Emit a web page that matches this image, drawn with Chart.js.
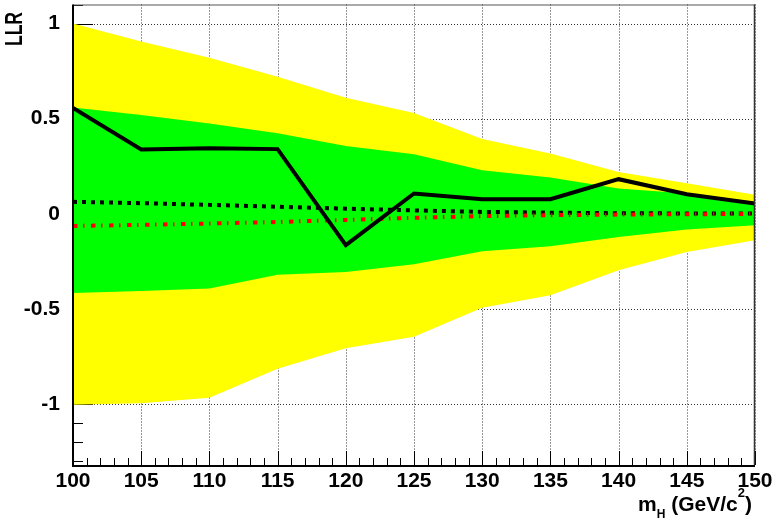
<!DOCTYPE html>
<html><head><meta charset="utf-8">
<script src="https://cdn.jsdelivr.net/npm/chart.js@4/dist/chart.umd.min.js"></script>
<style>html,body{margin:0;padding:0;background:#fff;} #wrap{width:773px;height:523px;position:relative;}</style>
</head><body><div id="wrap"><canvas id="c" width="773" height="523"></canvas></div>
<script>
const masses = [100,105,110,115,120,125,130,135,140,145,150];
const llrObserved = [0.556,0.338,0.344,0.340,-0.165,0.107,0.077,0.077,0.182,0.103,0.054];
const llrExpBkg = [0.063,0.056,0.047,0.037,0.027,0.018,0.010,0.006,0.003,0.002,0.001];
const llrExpSigBkg = [-0.064,-0.058,-0.051,-0.043,-0.032,-0.021,-0.012,-0.007,-0.004,-0.002,-0.001];
const band1Up = [0.559,0.519,0.475,0.423,0.357,0.313,0.229,0.191,0.133,0.107,0.063];
const band1Lo = [-0.416,-0.406,-0.393,-0.320,-0.306,-0.265,-0.197,-0.170,-0.122,-0.083,-0.060];
const band2Up = [1.0,0.905,0.82,0.72,0.61,0.53,0.393,0.317,0.22,0.16,0.10];
const band2Lo = [-1.004,-0.995,-0.967,-0.814,-0.706,-0.646,-0.493,-0.428,-0.297,-0.200,-0.139];
const xTicks = [100,105,110,115,120,125,130,135,140,145,150];
const yTicks = [-1,-0.5,0,0.5,1];
const xRange = [100,150];
const yRange = [-1.32,1.1];
const yTitle = "LLR";

const pts = arr => masses.map((m,i)=>({x:m,y:arr[i]}));
const FONT = "'Liberation Sans', Arial, Helvetica, sans-serif";

const band = (arr, color, fill, order) => ({
  data: pts(arr), borderColor:'rgba(0,0,0,0)', borderWidth:0, pointRadius:0,
  backgroundColor: color, fill: fill, order: order, tension:0
});

const decor = {
  id:'decor',
  beforeDatasetsDraw(chart){
    const {ctx, chartArea:a, scales:{x,y}} = chart;
    ctx.save();
    ctx.strokeStyle='rgba(0,0,0,0.8)'; ctx.lineWidth=1; ctx.setLineDash([1,2]);
    xTicks.forEach(v=>{ if(v===xRange[0]) return; const px=Math.round(x.getPixelForValue(v))+0.5;
      ctx.beginPath(); ctx.moveTo(px,a.top); ctx.lineTo(px,a.bottom); ctx.stroke(); });
    yTicks.forEach(v=>{ const py=Math.round(y.getPixelForValue(v))+0.5;
      ctx.beginPath(); ctx.moveTo(a.left,py); ctx.lineTo(a.right,py); ctx.stroke(); });
    ctx.setLineDash([]);
    ctx.strokeStyle='#000'; ctx.lineWidth=1;
    for(let v=xRange[0]; v<=xRange[1]; v+=1){
      const major = (v%5===0); const px=Math.round(x.getPixelForValue(v))+0.5;
      ctx.beginPath(); ctx.moveTo(px,a.bottom); ctx.lineTo(px,a.bottom-(major?14:7)); ctx.stroke();
    }
    for(let k=-13;k<=11;k++){
      const v=k/10; const major=(k%5===0); const py=Math.round(y.getPixelForValue(v))+0.5;
      ctx.beginPath(); ctx.moveTo(a.left,py); ctx.lineTo(a.left+(major?20:10),py); ctx.stroke();
    }
    ctx.restore();
  },
  afterDatasetsDraw(chart){
    const {ctx, chartArea:a} = chart;
    ctx.save();
    ctx.strokeStyle='#555'; ctx.lineWidth=1;
    ctx.beginPath(); ctx.moveTo(a.left,a.top+0.5); ctx.lineTo(a.right,a.top+0.5); ctx.stroke();
    ctx.strokeStyle='#333'; ctx.lineWidth=1.5;
    ctx.beginPath(); ctx.moveTo(a.right-0.5,a.top); ctx.lineTo(a.right-0.5,a.bottom); ctx.stroke();
    ctx.strokeStyle='#000'; ctx.lineWidth=2;
    ctx.beginPath(); ctx.moveTo(a.left,a.top); ctx.lineTo(a.left,a.bottom+1); ctx.lineTo(a.right,a.bottom+1); ctx.stroke();
    ctx.fillStyle='#000';
    ctx.font='bold 23px '+FONT;
    const w = ctx.measureText(yTitle).width;
    ctx.translate(22,46);
    ctx.rotate(-Math.PI/2);
    ctx.scale(34/w,1);
    ctx.textBaseline='alphabetic'; ctx.textAlign='left';
    ctx.fillText(yTitle,0,0);
    ctx.setTransform(1,0,0,1,0,0);
    const parts = [
      {t:'m', f:'bold 21px '+FONT, dy:0},
      {t:'H', f:'bold 12px '+FONT, dy:7},
      {t:' (GeV/c', f:'bold 21px '+FONT, dy:0},
      {t:'2', f:'bold 13px '+FONT, dy:-14},
      {t:')', f:'bold 21px '+FONT, dy:0}
    ];
    let total=0; parts.forEach(p=>{ctx.font=p.f; p.w=ctx.measureText(p.t).width; total+=p.w;});
    let cx = 752-total; const base=511;
    ctx.textAlign='left'; ctx.textBaseline='alphabetic';
    parts.forEach(p=>{ctx.font=p.f; ctx.fillText(p.t,cx,base+p.dy); cx+=p.w;});
    ctx.restore();
  }
};

new Chart(document.getElementById('c'), {
  type:'line',
  data:{ datasets:[
    band(band2Up,'#ffff00',1,6),
    band(band2Lo,'#ffff00',false,6),
    band(band1Up,'#00ff00',3,5),
    band(band1Lo,'#00ff00',false,5),
    {data:pts(llrExpBkg), borderColor:'#000', borderWidth:4, borderDash:[4,5], pointRadius:0, fill:false, order:3, tension:0, borderCapStyle:'butt'},
    {data:pts(llrExpSigBkg), borderColor:'#ff0000', borderWidth:4, borderDash:[4.5,5.5,1.5,6.5], pointRadius:0, fill:false, order:2, tension:0, borderCapStyle:'butt'},
    {data:pts(llrObserved), borderColor:'#000', borderWidth:4, pointRadius:0, fill:false, order:1, tension:0, borderJoinStyle:'miter'}
  ]},
  options:{
    responsive:false, animation:false,
    layout:{padding:{left:0,right:18,top:4.5,bottom:0}},
    plugins:{legend:{display:false}, tooltip:{enabled:false}},
    scales:{
      x:{type:'linear', min:xRange[0], max:xRange[1],
        grid:{display:false}, border:{display:false},
        afterBuildTicks:s=>{s.ticks=xTicks.map(v=>({value:v}));},
        afterFit:s=>{s.height=58; s.paddingLeft=0; s.paddingRight=0;},
        ticks:{font:{family:FONT,size:21,weight:'bold'}, color:'#000', padding:-4, maxRotation:0, autoSkip:false, callback:v=>String(v)}
      },
      y:{type:'linear', min:yRange[0], max:yRange[1],
        grid:{display:false}, border:{display:false},
        afterBuildTicks:s=>{s.ticks=yTicks.map(v=>({value:v}));},
        afterFit:s=>{s.width=73; s.paddingTop=0; s.paddingBottom=0;},
        ticks:{font:{family:FONT,size:21,weight:'bold'}, color:'#000', padding:5, autoSkip:false, callback:v=>String(v)}
      }
    }
  },
  plugins:[decor]
});
</script></body></html>
